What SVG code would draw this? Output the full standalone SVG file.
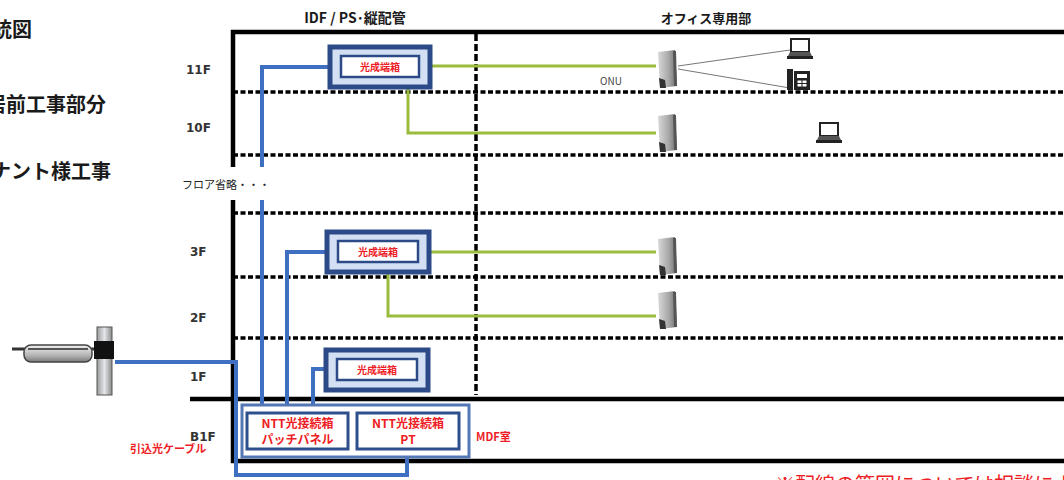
<svg xmlns="http://www.w3.org/2000/svg" width="1064" height="480" viewBox="0 0 1064 480">
  <defs>
    <style>
      .jp { font-family: "Noto Sans CJK JP", "Noto Sans", sans-serif; }
      .title { font-size: 20px; font-weight: bold; fill: #1a1a1a; }
      .hdr { font-size: 14px; font-weight: bold; fill: #1a1a1a; }
      .floor { font-family: "DejaVu Sans", sans-serif; font-size: 12px; font-weight: bold; fill: #333; }
      .red { fill: #ee1c25; font-weight: bold; }
      .frame { stroke: #000; stroke-width: 4.5; fill: none; }
      .dot { stroke: #000; stroke-width: 3.5; stroke-dasharray: 5 2.5; fill: none; }
      .vdash { stroke: #000; stroke-width: 3.5; stroke-dasharray: 7 3; fill: none; }
      .fiber { stroke: #3f6fc0; stroke-width: 4; fill: none; }
      .lan { stroke: #9bbb3c; stroke-width: 3; fill: none; }
      .thin { stroke: #777; stroke-width: 1; fill: none; }
      .boxOut { fill: #d3e0f3; stroke: #2c4a88; stroke-width: 5; }
      .boxIn { fill: #fff; stroke: #2c4a88; stroke-width: 2.5; }
      .ntt { fill: #fff; stroke: #2f4f8c; stroke-width: 3; }
    </style>
    <linearGradient id="onuGrad" x1="0" y1="0" x2="1" y2="0">
      <stop offset="0" stop-color="#d8d8d8"/>
      <stop offset="0.55" stop-color="#a9a9a9"/>
      <stop offset="1" stop-color="#6e6e6e"/>
    </linearGradient>
    <linearGradient id="poleGrad" x1="0" y1="0" x2="1" y2="0">
      <stop offset="0" stop-color="#9a9a9a"/>
      <stop offset="0.5" stop-color="#e4e6ea"/>
      <stop offset="1" stop-color="#8a8a8a"/>
    </linearGradient>
    <linearGradient id="trayGrad" x1="0" y1="0" x2="0" y2="1">
      <stop offset="0" stop-color="#f0f0f0"/>
      <stop offset="0.6" stop-color="#b5b5b5"/>
      <stop offset="1" stop-color="#7a7a7a"/>
    </linearGradient>
    <symbol id="onu" viewBox="0 0 24 40" width="24" height="40">
      <path d="M3 2 L20 0 L22 36 L5 38 Z" fill="url(#onuGrad)"/>
      <path d="M4 28 L10 30 L11 38 L5 38 Z" fill="#333"/>
      <path d="M18 1 L21 1 L22 36 L19 36 Z" fill="#555"/>
    </symbol>
    <symbol id="laptop" viewBox="0 0 28 24" width="28" height="24">
      <rect x="5" y="2" width="18" height="13" fill="#fff" stroke="#222" stroke-width="2"/>
      <path d="M1 19 L27 19 L27 22 L1 22 Z" fill="#222"/>
      <path d="M4 15 L24 15 L26 19 L2 19 Z" fill="#555"/>
    </symbol>
    <symbol id="phone" viewBox="0 0 26 24" width="26" height="24">
      <rect x="1" y="2" width="6" height="21" fill="#222"/>
      <rect x="8" y="4" width="16" height="19" fill="#222"/>
      <rect x="11" y="7" width="10" height="4" fill="#fff"/>
      <rect x="11" y="13" width="10" height="7" fill="#fff" stroke="#222" stroke-width="1"/>
      <path d="M16 13 V20 M11 16.5 H21" stroke="#222" stroke-width="1"/>
    </symbol>
  </defs>

  <rect width="1064" height="480" fill="#fff"/>

  <!-- legend texts at the left margin -->
  <g id="legend" class="jp title">
    <text x="32" y="37" text-anchor="end">光配線系統図</text>
    <text x="106" y="112" text-anchor="end">入居前工事部分</text>
    <text x="111" y="179" text-anchor="end">テナント様工事</text>
  </g>

  <!-- column headings -->
  <g id="headings" class="jp hdr">
    <text x="355" y="23" text-anchor="middle">IDF / PS･縦配管</text>
    <text x="706" y="23" text-anchor="middle" font-size="13">オフィス専用部</text>
  </g>

  <!-- building frame -->
  <g id="frame">
    <path class="frame" d="M233 167 V32 H1064"/>
    <path class="frame" d="M233 200 V461 H1064"/>
    <path class="frame" d="M190 399 H1064"/>
    <path class="dot" d="M233 92 H1064 M233 155 H1064 M233 213 H1064 M233 277 H1064 M233 338 H1064"/>
    <path class="vdash" d="M476 34 V395"/>
  </g>

  <!-- floor labels -->
  <g id="floors" class="floor">
    <text x="186" y="74">11F</text>
    <text x="186" y="132">10F</text>
    <text x="182" y="189" class="jp" font-size="11" font-weight="normal" fill="#222">フロア省略・・・</text>
    <text x="190" y="256">3F</text>
    <text x="190" y="322">2F</text>
    <text x="190" y="381">1F</text>
    <text x="190" y="441">B1F</text>
  </g>

  <!-- connectors: optical fibre (blue) and LAN (green) -->
  <g id="connectors">
    <path class="fiber" d="M330 67 H262 V167"/>
    <path class="fiber" d="M262 200 V413"/>
    <path class="fiber" d="M327 252 H287 V413"/>
    <path class="fiber" d="M326 369 H313 V413"/>
    <path class="fiber" d="M115 362 H236 V475 H407 V449"/>
    <path class="fiber" d="M348 431 H357" stroke-width="3"/>
    <path class="lan" d="M430 66 H656"/>
    <path class="lan" d="M408 87 V133 H656"/>
    <path class="lan" d="M429 252 H656"/>
    <path class="lan" d="M388 272 V316 H656"/>
    <path class="thin" d="M678 66 L790 50 M678 69 L790 88"/>
  </g>

  <!-- optical termination boxes -->
  <g id="box11F">
    <rect class="boxOut" x="330" y="47" width="100" height="40"/>
    <rect class="boxIn" x="341" y="56" width="78" height="21"/>
    <text class="jp red" x="380" y="70.5" font-size="10" text-anchor="middle">光成端箱</text>
  </g>
  <g id="box3F">
    <rect class="boxOut" x="327" y="232" width="102" height="40"/>
    <rect class="boxIn" x="338" y="241" width="80" height="21"/>
    <text class="jp red" x="378" y="255.5" font-size="10" text-anchor="middle">光成端箱</text>
  </g>
  <g id="box1F">
    <rect class="boxOut" x="326" y="350" width="102" height="40"/>
    <rect class="boxIn" x="337" y="359" width="80" height="21"/>
    <text class="jp red" x="377" y="373.5" font-size="10" text-anchor="middle">光成端箱</text>
  </g>

  <!-- MDF room equipment -->
  <g id="mdf">
    <rect x="242" y="405" width="227" height="52" fill="#fff" stroke="#5478b4" stroke-width="3"/>
    <rect class="ntt" x="247" y="413" width="101" height="36"/>
    <text class="jp red" x="297.5" y="428" font-size="12" text-anchor="middle">NTT光接続箱</text>
    <text class="jp red" x="297.5" y="444" font-size="12" text-anchor="middle">パッチパネル</text>
    <rect class="ntt" x="357" y="413" width="102" height="36"/>
    <text class="jp red" x="408" y="428" font-size="12" text-anchor="middle">NTT光接続箱</text>
    <text class="jp red" x="408" y="444" font-size="12" text-anchor="middle">PT</text>
  </g>

  <!-- ONU and terminals -->
  <g id="onu11F"><use href="#onu" x="655" y="50"/></g>
  <g id="onu10F"><use href="#onu" x="655" y="114"/></g>
  <g id="onu3F"><use href="#onu" x="655" y="237"/></g>
  <g id="onu2F"><use href="#onu" x="655" y="291"/></g>
  <text class="jp" x="600" y="85" font-size="10" fill="#444">ONU</text>
  <g id="laptop11F"><use href="#laptop" x="786" y="37"/></g>
  <g id="phone11F"><use href="#phone" x="786" y="67"/></g>
  <g id="laptop10F"><use href="#laptop" x="815" y="121"/></g>

  <!-- service entrance pole with cable tray -->
  <g id="pole">
    <rect x="97" y="327" width="15" height="68" fill="url(#poleGrad)" stroke="#555" stroke-width="1"/>
    <path d="M12 349 H96" stroke="#333" stroke-width="3"/>
    <rect x="24" y="345" width="68" height="17" rx="7" fill="url(#trayGrad)" stroke="#444" stroke-width="1.5"/>
    <path d="M28 349 H88" stroke="#555" stroke-width="2"/>
    <rect x="94" y="341" width="20" height="18" fill="#111"/>
  </g>

  <!-- red notes -->
  <g id="notes" class="jp">
    <text class="red" x="130" y="453" font-size="11" font-weight="normal">引込光ケーブル</text>
    <text class="red" x="476" y="441" font-size="11">MDF室</text>
    <text x="775" y="492" font-size="20" fill="#ee1c25">※配線の範囲については相談により</text>
  </g>
</svg>
